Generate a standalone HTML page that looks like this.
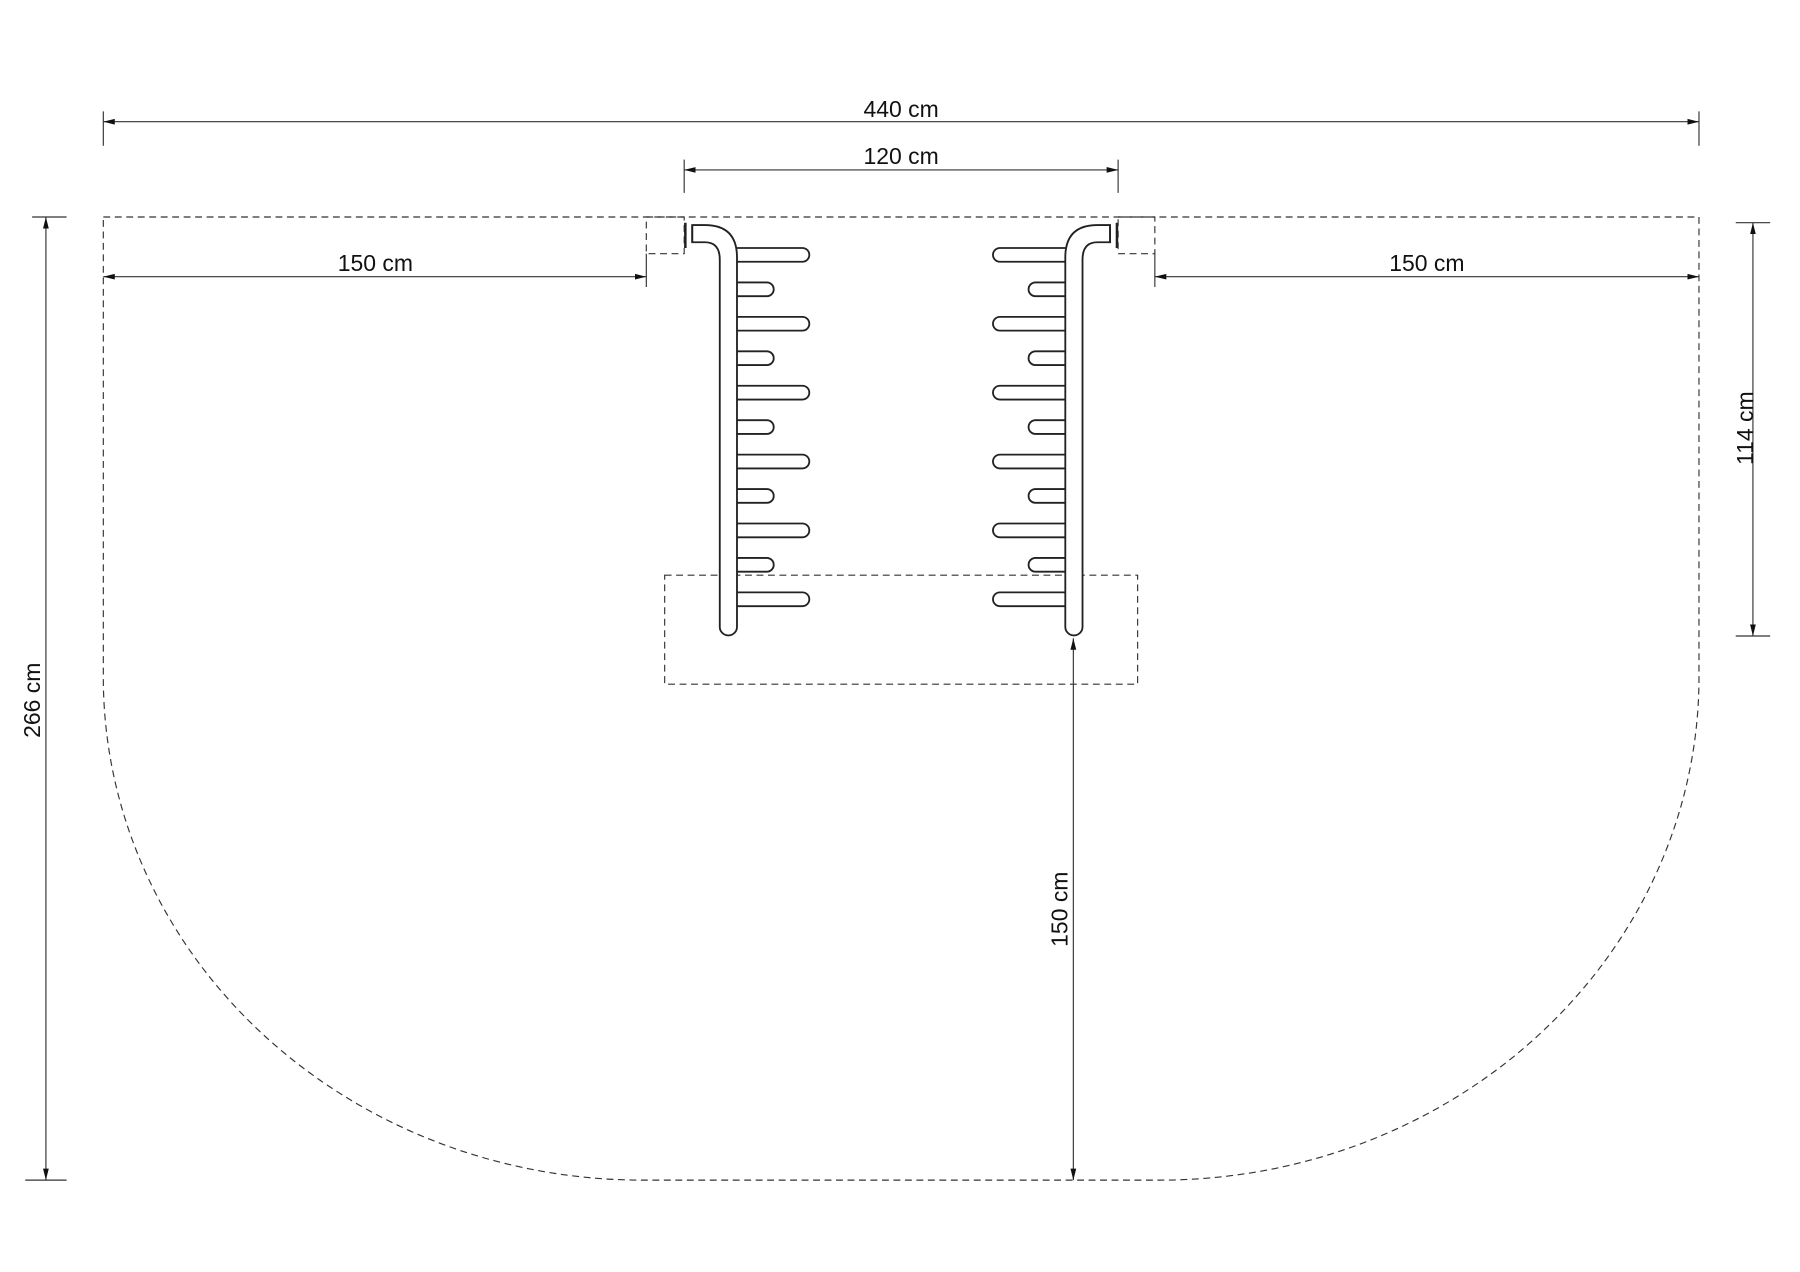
<!DOCTYPE html>
<html><head><meta charset="utf-8"><style>html,body{margin:0;padding:0;background:#fff}svg{display:block}</style></head>
<body>
<svg width="1800" height="1272" viewBox="0 0 1568 1108" xmlns="http://www.w3.org/2000/svg" font-family="Liberation Sans, sans-serif">
<defs>
<marker id="a" viewBox="0 0 10 6" refX="10" refY="3" markerWidth="10" markerHeight="6" orient="auto-start-reverse" markerUnits="userSpaceOnUse"><path d="M0,0.5 L10,3 L0,5.5 Z" fill="#111"/></marker>
<g id="rack" fill="#fff" stroke="#222" stroke-width="1.6">
<path d="M642,216 L699,216 A6,6 0 0 1 699,228 L642,228"/>
<path d="M642,246 L668,246 A6,6 0 0 1 668,258 L642,258"/>
<path d="M642,276 L699,276 A6,6 0 0 1 699,288 L642,288"/>
<path d="M642,306 L668,306 A6,6 0 0 1 668,318 L642,318"/>
<path d="M642,336 L699,336 A6,6 0 0 1 699,348 L642,348"/>
<path d="M642,366 L668,366 A6,6 0 0 1 668,378 L642,378"/>
<path d="M642,396 L699,396 A6,6 0 0 1 699,408 L642,408"/>
<path d="M642,426 L668,426 A6,6 0 0 1 668,438 L642,438"/>
<path d="M642,456 L699,456 A6,6 0 0 1 699,468 L642,468"/>
<path d="M642,486 L668,486 A6,6 0 0 1 668,498 L642,498"/>
<path d="M642,516 L699,516 A6,6 0 0 1 699,528 L642,528"/>
<path d="M603,196 L614,196 Q642,196 642,224 L642,546 A7.5,7.5 0 0 1 627,546 L627,226 Q627,211 614,211 L603,211 Z"/>
<line x1="603" y1="196" x2="603" y2="211"/>
<line x1="597" y1="194" x2="597" y2="216" stroke-width="2.2"/>
</g>
</defs>
<g stroke="#333" stroke-width="1" fill="none">
<line x1="90" y1="97" x2="90" y2="127"/><line x1="1480" y1="97" x2="1480" y2="127"/>
<line x1="90" y1="106" x2="1480" y2="106" marker-start="url(#a)" marker-end="url(#a)"/>
<line x1="596" y1="139" x2="596" y2="168"/><line x1="974" y1="139" x2="974" y2="168"/>
<line x1="596" y1="148" x2="974" y2="148" marker-start="url(#a)" marker-end="url(#a)"/>
<line x1="90" y1="241" x2="563" y2="241" marker-start="url(#a)" marker-end="url(#a)"/>
<line x1="563" y1="221" x2="563" y2="250"/>
<line x1="1006" y1="241" x2="1480" y2="241" marker-start="url(#a)" marker-end="url(#a)"/>
<line x1="1006" y1="221" x2="1006" y2="250"/>
<line x1="1512" y1="194" x2="1542" y2="194"/><line x1="1512" y1="554" x2="1542" y2="554"/>
<line x1="1527" y1="194" x2="1527" y2="554" marker-start="url(#a)" marker-end="url(#a)"/>
<line x1="28" y1="189" x2="58" y2="189"/><line x1="22" y1="1028" x2="58" y2="1028"/>
<line x1="40" y1="189" x2="40" y2="1028" marker-start="url(#a)" marker-end="url(#a)"/>
<line x1="935" y1="556" x2="935" y2="1028" marker-start="url(#a)" marker-end="url(#a)"/>
</g>
<g stroke="#333" stroke-width="1" fill="none" stroke-dasharray="6,4">
<path d="M90,189 L1480,189 L1480,590 A470,438 0 0 1 1010,1028 L560,1028 A470,438 0 0 1 90,590 Z"/>
<rect x="579" y="501" width="412" height="95"/>
<rect x="563" y="189" width="33" height="32"/>
<rect x="974" y="189" width="32" height="32"/>
</g>
<use href="#rack"/>
<use href="#rack" transform="translate(1570,0) scale(-1,1)"/>
<g font-size="20" fill="#111" text-anchor="middle">
<text x="785" y="102">440 cm</text>
<text x="785" y="143">120 cm</text>
<text x="327" y="236">150 cm</text>
<text x="1243" y="236">150 cm</text>
<text transform="translate(1527,373) rotate(-90)">114 cm</text>
<text transform="translate(35,610) rotate(-90)">266 cm</text>
<text transform="translate(930,792) rotate(-90)">150 cm</text>
</g>
</svg>
</body></html>
